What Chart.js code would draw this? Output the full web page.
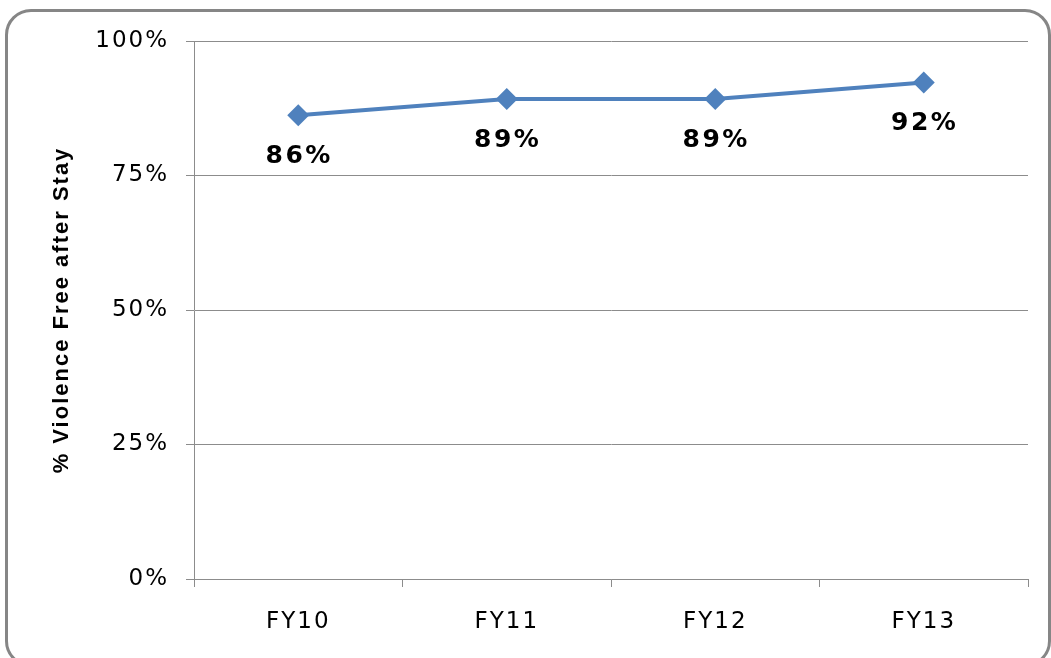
<!DOCTYPE html>
<html>
<head>
<meta charset="utf-8">
<script src="https://cdn.jsdelivr.net/npm/chart.js@4"></script>
<style>
  html, body { margin: 0; padding: 0; background: #fff; }
  body { width: 1051px; height: 658px; position: relative; overflow: hidden; }
  #frame {
    position: absolute; left: 5px; top: 9px; width: 1040px; height: 652px;
    border: 3px solid #868686; border-radius: 26px;
  }
  #wrap { position: absolute; left: 0; top: 0; width: 1051px; height: 658px; }
</style>
</head>
<body>
<div id="frame"></div>
<div id="wrap"><canvas id="graph" width="1051" height="658"></canvas></div>
<script>
const years = ["FY10", "FY11", "FY12", "FY13"];
const violenceFree = [86.2, 89.2, 89.2, 92.3];
const labelText = ["86%", "89%", "89%", "92%"];
const yTicks = [0, 25, 50, 75, 100];

const ctx = document.getElementById("graph").getContext("2d");
const lineBlue = "#4F81BD";
const gridGray = "#8c8c8c";

// excel-ish wide text
const spacing = {
    id: "spacing",
    beforeDraw(chart) { chart.ctx.letterSpacing = "2px"; }
};

const pointLabels = {
    id: "pointLabels",
    afterDatasetsDraw(chart) {
        const c = chart.ctx;
        const meta = chart.getDatasetMeta(0);
        c.save();
        c.letterSpacing = "2.5px";
        c.font = "bold 25px 'DejaVu Sans'";
        c.fillStyle = "#000";
        c.textAlign = "center";
        c.textBaseline = "middle";
        meta.data.forEach((pt, i) => {
            c.fillText(labelText[i], pt.x + 1, pt.y + 41);
        });
        c.restore();
    }
};

let chart = new Chart(ctx, {
    type: "line",
    data: {
        labels: years,
        datasets: [{
            data: violenceFree,
            borderColor: lineBlue,
            backgroundColor: lineBlue,
            borderWidth: 4,
            pointStyle: "rectRot",
            pointRadius: 11,
            pointHoverRadius: 11,
            pointBorderWidth: 0,
            tension: 0
        }]
    },
    options: {
        responsive: false,
        animation: false,
        events: [],
        layout: { padding: { top: 41, right: 23, left: 0, bottom: 0 } },
        plugins: { legend: { display: false }, tooltip: { enabled: false } },
        scales: {
            x: {
                offset: true,
                afterFit: s => { s.height = 79; },
                grid: {
                    offset: true,
                    drawOnChartArea: false,
                    drawTicks: true,
                    tickLength: 8,
                    color: gridGray
                },
                border: { color: gridGray, width: 1 },
                ticks: {
                    color: "#000",
                    padding: 21,
                    font: { family: "'DejaVu Sans'", size: 23 }
                }
            },
            y: {
                min: 0,
                max: 100,
                afterFit: s => { s.width = 194; },
                afterBuildTicks: s => { s.ticks = yTicks.map(v => ({ value: v })); },
                grid: { color: gridGray, tickLength: 8 },
                border: { color: gridGray, width: 1 },
                ticks: {
                    color: "#000",
                    padding: 17,
                    font: { family: "'DejaVu Sans'", size: 23 },
                    callback: v => v + "%"
                },
                title: {
                    display: true,
                    text: "% Violence Free after Stay",
                    color: "#000",
                    padding: { top: 49, bottom: 0 },
                    font: { family: "'Liberation Sans'", size: 22, weight: "bold" }
                }
            }
        }
    },
    plugins: [spacing, pointLabels]
});
</script>
</body>
</html>
